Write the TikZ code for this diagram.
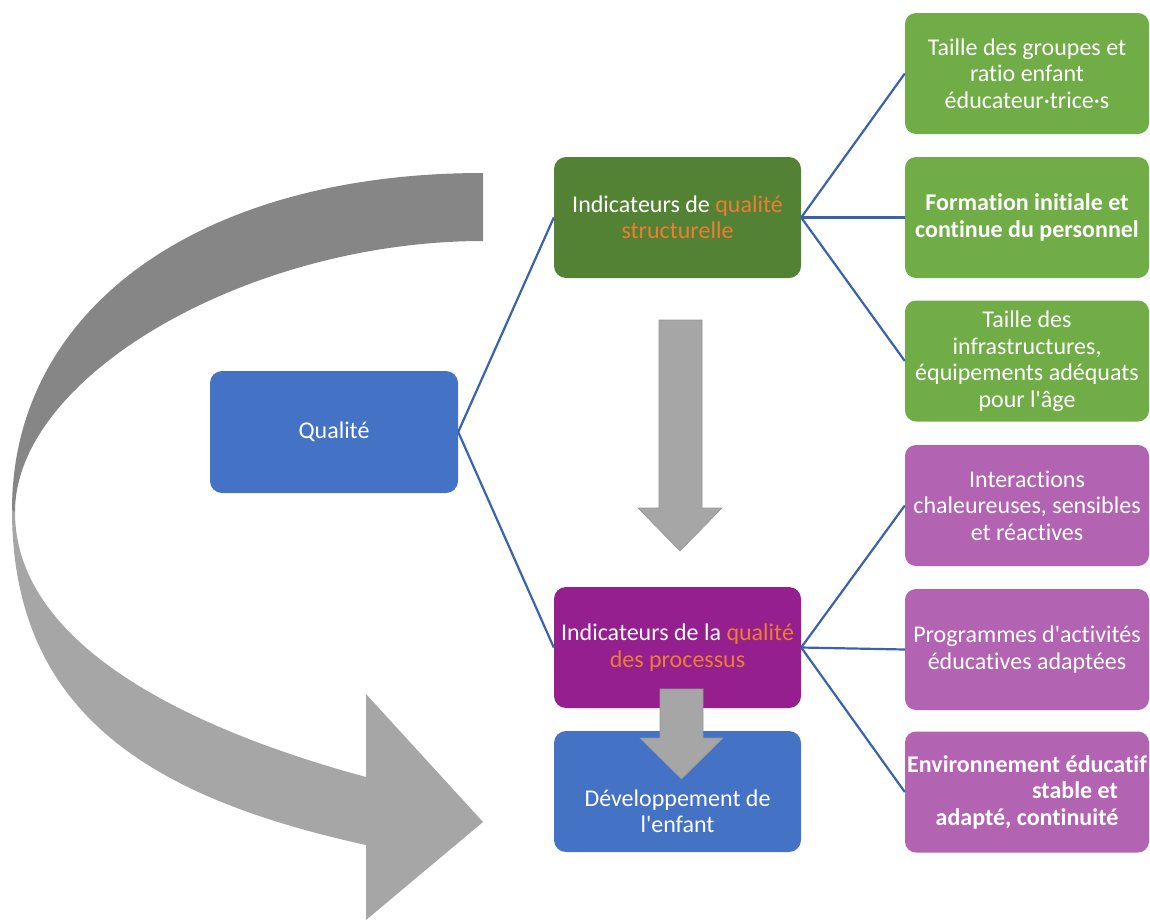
\documentclass[tikz,border=0pt]{standalone}
\usepackage{fontspec}
\setmainfont{Carlito}[Ligatures={TeXOff,CommonOff}]
\definecolor{qblue}{HTML}{4472C4}
\definecolor{sgreen}{HTML}{548235}
\definecolor{ppurple}{HTML}{951F8F}
\definecolor{lgreen}{HTML}{70AD47}
\definecolor{lpurple}{HTML}{B263B1}
\definecolor{qorange}{HTML}{ED7D31}
\definecolor{conn}{HTML}{3B62AE}
\definecolor{darkband}{HTML}{868686}
\definecolor{lightband}{HTML}{A6A6A6}
\tikzset{
  mainbox/.style={rounded corners=12pt, minimum width=247pt, minimum height=121pt, inner sep=0pt,
    text=white, align=center, font=\fontsize{24}{26.5}\selectfont},
  sidebox/.style={rounded corners=11pt, minimum width=244pt, minimum height=121pt, inner sep=0pt,
    text=white, align=center, font=\fontsize{24}{26.5}\selectfont},
  txt/.style={text=white, align=center, inner sep=0pt, font=\fontsize{24}{26.5}\selectfont},
  link/.style={draw=conn, line width=2.2pt},
  downarrow/.style={fill=lightband, draw=lightband!90!black, line width=0.6pt}
}
\begin{document}
\begin{tikzpicture}[x=1pt,y=-1pt]
\useasboundingbox (0,0) rectangle (1150,921);
% curved arrow
\fill[lightband] (12,510) .. controls (12,718) and (158,799.2) .. (366,845) -- (366,920) -- (483,822) -- (366,694) -- (366,777) .. controls (221,737.8) and (15,657) .. (15,512) -- cycle;
\fill[darkband] (483,173) .. controls (200,173) and (12,308) .. (12,510) -- (15,512) .. controls (15,375.5) and (249,241) .. (483,241) -- cycle;
% main boxes
\node[mainbox, fill=qblue, minimum width=248pt, minimum height=122pt] (qual) at (334,432) {Qualité};
\node[mainbox, fill=sgreen] (struct) at (677.5,217.5) {Indicateurs de \textcolor{qorange}{qualité}\\\textcolor{qorange}{structurelle}};
\node[mainbox, fill=ppurple] (proc) at (677.5,647.5) {Indicateurs de la \textcolor{qorange}{qualité}\\\textcolor{qorange}{des processus}};
\node[mainbox, fill=qblue] (dev) at (677.5,791.5) {};
\node[txt] (devtext) at (677.5,811) {Développement de\\l'enfant};
% side boxes
\node[sidebox, fill=lgreen] (g1) at (1027,73.5) {Taille des groupes et\\ratio enfant\\éducateur·trice·s};
\node[sidebox, fill=lgreen] (g2) at (1027,217.5) {\bfseries Formation initiale et\\\bfseries continue du personnel};
\node[sidebox, fill=lgreen] (g3) at (1027,361) {Taille des\\infrastructures,\\équipements adéquats\\pour l'âge};
\node[sidebox, fill=lpurple] (p1) at (1027,505.5) {Interactions\\chaleureuses, sensibles\\et réactives};
\node[sidebox, fill=lpurple] (p2) at (1027,649.5) {Programmes d'activités\\éducatives adaptées};
\node[sidebox, fill=lpurple] (p3) at (1027,792) {\bfseries Environnement éducatif\\\bfseries\hspace*{96pt}stable et\\\bfseries adapté, continuité};
% connectors
\draw[link] (qual.east) -- (struct.west);
\draw[link] (qual.east) -- (proc.west);
\draw[link] (struct.east) -- (g1.west);
\draw[link] (struct.east) -- (g2.west);
\draw[link] (struct.east) -- (g3.west);
\draw[link] (proc.east) -- (p1.west);
\draw[link] (proc.east) -- (p2.west);
\draw[link] (proc.east) -- (p3.west);
% down arrows
\draw[downarrow] (659,320) -- (702,320) -- (702,508) -- (722,508) -- (680,551) -- (638,508) -- (659,508) -- cycle;
\draw[downarrow] (660,689) -- (703,689) -- (703,738) -- (723,738) -- (681.5,779) -- (640,738) -- (660,738) -- cycle;
\end{tikzpicture}
\end{document}
